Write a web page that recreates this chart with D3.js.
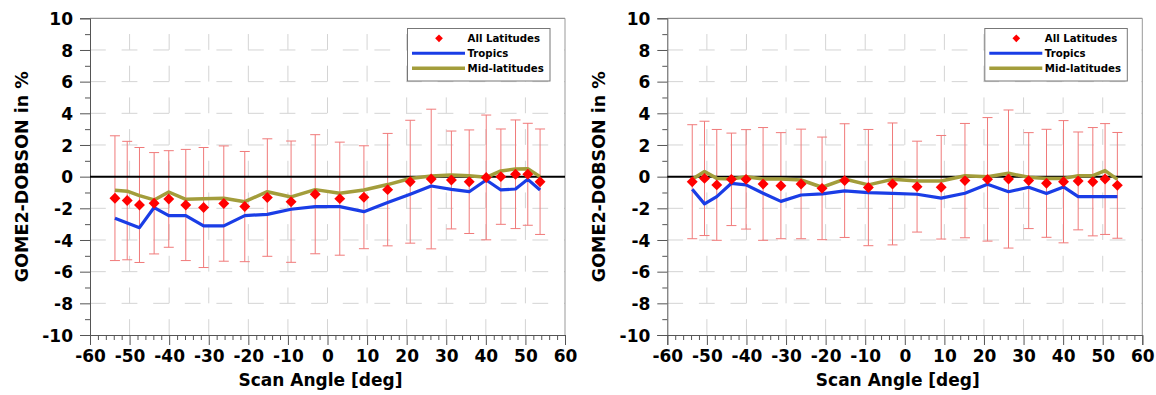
<!DOCTYPE html>
<html><head><meta charset="utf-8">
<script src="https://cdn.jsdelivr.net/npm/d3@7"></script>
<style>body{margin:0;background:#fff;}svg{display:block;}</style>
</head><body>
<svg id="chart" width="1156" height="395"></svg>
<script>
const scanAngles = [-53.7,-50.6,-47.5,-43.8,-40.1,-35.8,-31.3,-26.2,-20.9,-15.2,-9.2,-3.1,3.1,9.2,15.2,20.9,26.2,31.3,35.8,40.1,43.8,47.5,50.6,53.7];

const allLatLeft = [-1.36,-1.51,-1.79,-1.68,-1.41,-1.79,-1.95,-1.70,-1.89,-1.32,-1.58,-1.11,-1.39,-1.30,-0.82,-0.32,-0.15,-0.21,-0.32,-0.05,0.0,0.15,0.15,-0.32];
const errLeft = [3.94,3.74,3.63,3.20,3.05,3.51,3.79,3.64,3.48,3.71,3.83,3.76,3.57,3.25,3.55,3.88,4.41,3.09,3.27,3.94,3.01,3.43,3.22,3.33];
const tropicsLeft = [-2.63,-2.92,-3.22,-1.95,-2.46,-2.46,-3.11,-3.11,-2.46,-2.38,-2.06,-1.89,-1.89,-2.21,-1.64,-1.11,-0.59,-0.80,-0.95,-0.21,-0.84,-0.78,-0.17,-0.84];
const midLatLeft = [-0.86,-0.92,-1.20,-1.47,-0.97,-1.43,-1.39,-1.36,-1.58,-0.95,-1.28,-0.82,-1.05,-0.84,-0.50,-0.12,0.04,0.11,0.05,-0.04,0.36,0.49,0.50,0.0];

const allLatRight = [-0.32,-0.11,-0.52,-0.17,-0.17,-0.46,-0.57,-0.46,-0.74,-0.25,-0.69,-0.46,-0.63,-0.67,-0.25,-0.17,-0.15,-0.25,-0.42,-0.32,-0.27,-0.32,-0.15,-0.55];
const errRight = [3.60,3.61,3.50,2.92,3.14,3.56,3.35,3.46,3.24,3.59,3.67,3.85,2.87,3.27,3.61,3.90,4.36,3.03,3.41,3.86,3.09,3.42,3.50,3.34];
const tropicsRight = [-0.80,-1.72,-1.26,-0.42,-0.52,-1.05,-1.56,-1.16,-1.09,-0.90,-1.01,-1.05,-1.11,-1.36,-1.05,-0.48,-0.95,-0.67,-1.07,-0.65,-1.26,-1.26,-1.26,-1.26];
const midLatRight = [-0.17,0.32,-0.11,-0.15,0.0,-0.15,-0.15,-0.21,-0.67,-0.15,-0.52,-0.17,-0.27,-0.27,0.06,0.0,0.21,-0.04,-0.11,-0.11,0.06,0.06,0.38,-0.17];

const xTicks = [-60,-50,-40,-30,-20,-10,0,10,20,30,40,50,60];
const yTicks = [-10,-8,-6,-4,-2,0,2,4,6,8,10];
const legendLabels = ["All Latitudes","Tropics","Mid-latitudes"];
const xLabel = "Scan Angle [deg]";
const yLabel = "GOME2-DOBSON in %";

const FONT = "'DejaVu Sans', Verdana, sans-serif";
const C_ERR = "#f07a7a", C_PT = "#ff0000", C_TROP = "#1a3de6", C_MID = "#a39d3b";
const fmt = d => String(d);

const svg = d3.select("#chart");

function panel(ox, allLat, err, trop, mid) {
  const g = svg.append("g").attr("transform", `translate(${ox},0)`);
  const x = d3.scaleLinear().domain([-60,60]).range([90,565]);
  const y = d3.scaleLinear().domain([-10,10]).range([335,18.3]);
  const [x0,x1] = x.range(), [yb,yt] = y.range();

  // grid
  const grid = g.append("g").attr("stroke","#d4d4d4").attr("stroke-width",1);
  yTicks.filter(v=>v>-10 && v<10 && v!==0).forEach(v=>{
    grid.append("line").attr("x1",x0).attr("x2",x1).attr("y1",y(v)).attr("y2",y(v))
      .attr("stroke-dasharray","15.8,15.8");
  });
  xTicks.filter(v=>v>-60 && v<60).forEach(v=>{
    grid.append("line").attr("x1",x(v)).attr("x2",x(v)).attr("y1",yb).attr("y2",yt)
      .attr("stroke-dasharray","15.84,15.84");
  });

  // frame
  g.append("line").attr("x1",x0).attr("x2",x1).attr("y1",yt).attr("y2",yt).attr("stroke","#777");
  g.append("line").attr("x1",x1).attr("x2",x1).attr("y1",yt).attr("y2",yb).attr("stroke","#999");

  // y axis
  const yAxis = d3.axisLeft(y).tickValues(yTicks).tickSize(10).tickFormat(fmt);
  const ya = g.append("g").attr("transform",`translate(${x0},0)`).call(yAxis);
  ya.select(".domain").attr("stroke","#555");
  ya.selectAll(".tick line").attr("stroke","#555");
  ya.selectAll(".tick text").attr("font-family",FONT).attr("font-weight","bold")
    .attr("font-size",17).attr("fill","#000").attr("x",-17).attr("dy","0.36em");
  const yMinor = d3.axisLeft(y).tickValues(d3.range(-9,10,2)).tickSize(5).tickFormat("");
  const ym = g.append("g").attr("transform",`translate(${x0},0)`).call(yMinor);
  ym.select(".domain").remove(); ym.selectAll("line").attr("stroke","#555");

  // x axis
  const xAxis = d3.axisBottom(x).tickValues(xTicks).tickSize(10).tickFormat(fmt);
  const xa = g.append("g").attr("transform",`translate(0,${yb})`).call(xAxis);
  xa.select(".domain").attr("stroke","#555");
  xa.selectAll(".tick line").attr("stroke","#555");
  xa.selectAll(".tick text").attr("font-family",FONT).attr("font-weight","bold")
    .attr("font-size",17).attr("fill","#000").attr("y",15).attr("dy","0.71em");
  const xMinor = d3.axisBottom(x).tickValues(d3.range(-58,60,2).filter(v=>v%10!==0)).tickSize(5).tickFormat("");
  const xm = g.append("g").attr("transform",`translate(0,${yb})`).call(xMinor);
  xm.select(".domain").remove(); xm.selectAll("line").attr("stroke","#555");

  // labels
  g.append("text").attr("x",(x0+x1)/2 - 7).attr("y",386).attr("text-anchor","middle")
    .attr("font-family",FONT).attr("font-weight","bold").attr("font-size",17).text(xLabel);
  g.append("text").attr("transform",`translate(27.5,${(yt+yb)/2}) rotate(-90)`).attr("text-anchor","middle")
    .attr("font-family",FONT).attr("font-weight","bold").attr("font-size",17.5).text(yLabel);

  const pts = scanAngles.map((a,i)=>({a, m:allLat[i], e:err[i], t:trop[i], l:mid[i]}));

  // error bars
  const eb = g.append("g").attr("stroke",C_ERR).attr("stroke-width",1);
  pts.forEach(p=>{
    const cx = x(p.a), ya1 = y(p.m+p.e), ya2 = y(p.m-p.e);
    eb.append("line").attr("x1",cx).attr("x2",cx).attr("y1",ya1).attr("y2",ya2);
    eb.append("line").attr("x1",cx-5).attr("x2",cx+5).attr("y1",ya1).attr("y2",ya1);
    eb.append("line").attr("x1",cx-5).attr("x2",cx+5).attr("y1",ya2).attr("y2",ya2);
  });

  // zero line
  g.append("line").attr("x1",x0).attr("x2",x1).attr("y1",y(0)).attr("y2",y(0))
    .attr("stroke","#000").attr("stroke-width",2);

  // lines
  g.append("path").datum(pts).attr("fill","none").attr("stroke",C_MID).attr("stroke-width",3.5)
    .attr("stroke-linejoin","round").attr("d",d3.line().x(d=>x(d.a)).y(d=>y(d.l)));
  g.append("path").datum(pts).attr("fill","none").attr("stroke",C_TROP).attr("stroke-width",3.2)
    .attr("stroke-linejoin","round").attr("d",d3.line().x(d=>x(d.a)).y(d=>y(d.t)));

  // diamonds
  const sym = d3.symbol().type(d3.symbolDiamond2).size(76);
  g.append("g").selectAll("path").data(pts).join("path")
    .attr("transform",d=>`translate(${x(d.a)},${y(d.m)})`)
    .attr("d",sym).attr("fill",C_PT);

  // legend
  const lg = g.append("g");
  lg.append("rect").attr("x",407.5).attr("y",28.5).attr("width",142.5).attr("height",52.5)
    .attr("fill","#fff").attr("stroke","#777").attr("stroke-width",1);
  lg.append("path").attr("transform","translate(439,38.3)")
    .attr("d",d3.symbol().type(d3.symbolDiamond2).size(38)).attr("fill",C_PT);
  lg.append("line").attr("x1",412).attr("x2",465).attr("y1",53.3).attr("y2",53.3).attr("stroke",C_TROP).attr("stroke-width",3);
  lg.append("line").attr("x1",412).attr("x2",465).attr("y1",68.3).attr("y2",68.3).attr("stroke",C_MID).attr("stroke-width",3.5);
  legendLabels.forEach((t,i)=>{
    lg.append("text").attr("x",467.5).attr("y",38.3+15*i+3.7).attr("font-family",FONT)
      .attr("font-weight","bold").attr("font-size",10.2).attr("fill","#000").text(t);
  });
}

panel(0, allLatLeft, errLeft, tropicsLeft, midLatLeft);
panel(577.3, allLatRight, errRight, tropicsRight, midLatRight);
</script>
</body></html>
